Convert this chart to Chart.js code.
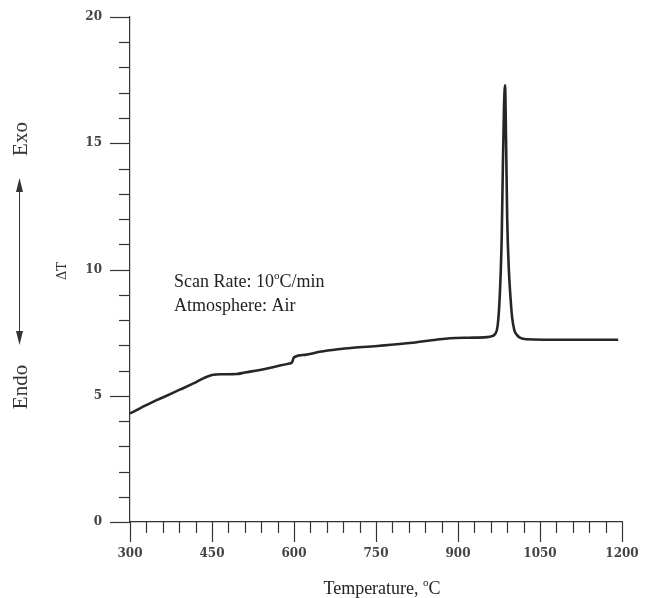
<!DOCTYPE html>
<html>
<head>
<meta charset="utf-8">
<script src="https://cdn.jsdelivr.net/npm/chart.js@4.4.1/dist/chart.umd.min.js"></script>
<style>
  html, body { margin: 0; padding: 0; background: #fff; }
  #wrap { width: 649px; height: 598px; }
</style>
</head>
<body>
<div id="wrap"><canvas id="c" width="649" height="598"></canvas></div>
<script>
// ---- data ----
const temperatures = [300, 320, 342, 365, 391, 415, 435, 450, 470, 495, 510, 540, 565, 592, 596, 600, 620, 647, 680, 708, 757, 817, 860, 885, 920, 953, 962, 968, 972, 975, 978, 980, 982, 984, 986, 988, 990, 993, 996, 999, 1003, 1008, 1015, 1025, 1100, 1193];
const deltaT =       [4.30, 4.52, 4.76, 4.98, 5.24, 5.48, 5.70, 5.82, 5.85, 5.86, 5.92, 6.03, 6.15, 6.28, 6.31, 6.52, 6.62, 6.74, 6.84, 6.90, 6.98, 7.10, 7.22, 7.28, 7.30, 7.32, 7.36, 7.45, 7.70, 8.40, 9.80, 11.3, 14.0, 16.3, 17.3, 15.0, 12.0, 10.0, 8.9, 8.1, 7.6, 7.4, 7.28, 7.24, 7.22, 7.22];
const xTickLabels = [300, 450, 600, 750, 900, 1050, 1200];
const yTickLabels = [0, 5, 10, 15, 20];
const xTitle = ["Temperature, ", "o", "C"];
const yTitle = "\u0394T";
const noteLine1 = ["Scan Rate: 10", "o", "C/min"];
const noteLine2 = "Atmosphere: Air";
const exoLabel = "Exo";
const endoLabel = "Endo";

const INK = '#262626';
const tickFont = { family: 'DejaVu Serif', size: 12, weight: 'bold' };

function drawParts(ctx, parts, x, y, size, align) {
  const supSize = Math.round(size * 0.62);
  const fN = size + 'px "Liberation Serif"';
  const fS = supSize + 'px "Liberation Serif"';
  ctx.font = fN; const w0 = ctx.measureText(parts[0]).width;
  ctx.font = fS; const w1 = ctx.measureText(parts[1]).width;
  ctx.font = fN; const w2 = ctx.measureText(parts[2]).width;
  let sx = x;
  if (align === 'center') sx = x - (w0 + w1 + w2) / 2;
  ctx.textBaseline = 'alphabetic';
  ctx.textAlign = 'left';
  ctx.font = fN; ctx.fillText(parts[0], sx, y);
  ctx.font = fS; ctx.fillText(parts[1], sx + w0, y - size * 0.42);
  ctx.font = fN; ctx.fillText(parts[2], sx + w0 + w1, y);
}

const decorPlugin = {
  id: 'decor',
  afterDraw(chart) {
    const ctx = chart.ctx;
    const xs = chart.scales.x, ys = chart.scales.y;
    const area = chart.chartArea;
    ctx.save();
    ctx.strokeStyle = '#333';
    ctx.lineWidth = 1.2;
    ys.ticks.forEach(t => {
      const py = Math.round(ys.getPixelForValue(t.value)) + 0.5;
      const len = yTickLabels.includes(t.value) ? 20 : 11;
      ctx.beginPath(); ctx.moveTo(area.left - len, py); ctx.lineTo(area.left, py); ctx.stroke();
    });
    xs.ticks.forEach(t => {
      const px = Math.round(xs.getPixelForValue(t.value)) + 0.5;
      const len = xTickLabels.includes(t.value) ? 20 : 11;
      ctx.beginPath(); ctx.moveTo(px, area.bottom); ctx.lineTo(px, area.bottom + len); ctx.stroke();
    });

    ctx.fillStyle = '#222';
    drawParts(ctx, xTitle, (area.left + area.right) / 2 + 6, 594, 18, 'center');
    drawParts(ctx, noteLine1, 174, 287, 18, 'left');
    ctx.font = '18px "Liberation Serif"';
    ctx.textAlign = 'left'; ctx.textBaseline = 'alphabetic';
    ctx.fillText(noteLine2, 174, 311);

    ctx.save();
    ctx.translate(63, 271);
    ctx.rotate(-Math.PI / 2);
    ctx.font = '13px "DejaVu Serif"';
    ctx.textAlign = 'center'; ctx.textBaseline = 'middle';
    ctx.fillStyle = '#333';
    ctx.fillText(yTitle, 0, 0);
    ctx.restore();

    ctx.fillStyle = '#333';
    ctx.font = '21px "Liberation Serif"';
    [[exoLabel, 139], [endoLabel, 387]].forEach(([txt, cy]) => {
      ctx.save();
      ctx.translate(21, cy);
      ctx.rotate(-Math.PI / 2);
      ctx.textAlign = 'center'; ctx.textBaseline = 'middle';
      ctx.fillText(txt, 0, 0);
      ctx.restore();
    });
    const ax = 19.5, top = 178, bot = 345;
    ctx.strokeStyle = '#333'; ctx.lineWidth = 1;
    ctx.beginPath(); ctx.moveTo(ax, top + 8); ctx.lineTo(ax, bot - 8); ctx.stroke();
    ctx.beginPath(); ctx.moveTo(ax, top); ctx.lineTo(ax - 3.5, top + 14); ctx.lineTo(ax + 3.5, top + 14); ctx.closePath(); ctx.fill();
    ctx.beginPath(); ctx.moveTo(ax, bot); ctx.lineTo(ax - 3.5, bot - 14); ctx.lineTo(ax + 3.5, bot - 14); ctx.closePath(); ctx.fill();
    ctx.restore();
  }
};

new Chart(document.getElementById('c'), {
  type: 'line',
  data: {
    datasets: [{
      data: temperatures.map((t, i) => ({ x: t, y: deltaT[i] })),
      borderColor: INK,
      borderWidth: 2.6,
      pointRadius: 0,
      cubicInterpolationMode: 'monotone',
      fill: false
    }]
  },
  options: {
    responsive: false,
    animation: false,
    layout: { padding: { left: 0, right: 27, top: 17, bottom: 0 } },
    plugins: { legend: { display: false }, tooltip: { enabled: false } },
    scales: {
      x: {
        type: 'linear', min: 300, max: 1200,
        afterFit: s => { s.height = 76; },
        ticks: {
          stepSize: 30, autoSkip: false, maxRotation: 0, padding: 5,
          font: tickFont, color: '#444',
          callback: v => xTickLabels.includes(v) ? String(v) : ''
        },
        grid: { display: false, drawTicks: true, tickLength: 20 },
        border: { display: true, color: '#333', width: 1.2 }
      },
      y: {
        type: 'linear', min: 0, max: 20,
        afterFit: s => { s.width = 130; },
        ticks: {
          stepSize: 1, autoSkip: false, padding: 8,
          font: tickFont, color: '#444',
          callback: v => yTickLabels.includes(v) ? String(v) : ''
        },
        grid: { display: false, drawTicks: true, tickLength: 20 },
        border: { display: true, color: '#333', width: 1.2 }
      }
    }
  },
  plugins: [decorPlugin]
});
</script>
</body>
</html>
